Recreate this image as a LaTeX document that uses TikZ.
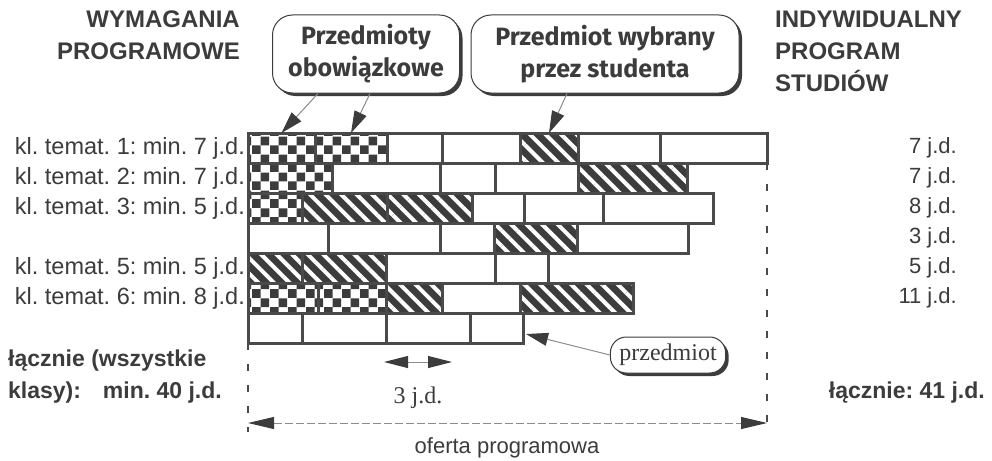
\documentclass[tikz,border=0pt]{standalone}
\usepackage{fontspec}
\setmainfont{Liberation Sans}
\newfontfamily\calloutfont{Fira Sans}
\newfontfamily\unitfont{Liberation Serif}
\usetikzlibrary{positioning, patterns.meta, arrows.meta, shadows}

\definecolor{ink}{HTML}{3C3C3C}
\definecolor{gridgray}{HTML}{4A4A4A}
\definecolor{shaftgray}{HTML}{8C8C8C}

\tikzdeclarepattern{
	name=checkcells,
	type=uncolored,
	bottom left={(0pt,0pt)},
	top right={(18pt,18pt)},
	tile size={(18pt,18pt)},
	code={
		\fill (0pt,0pt) rectangle (9pt,9pt);
		\fill (9pt,9pt) rectangle (18pt,18pt);
	}
}

\tikzset{
	cell/.style={draw=gridgray, line width=3pt, anchor=north west, minimum height=30pt, inner sep=0pt, outer sep=0pt},
	blankcell/.style={cell, fill=white},
	chkcell/.style={cell, preaction={fill=white}, pattern=checkcells, pattern color=ink},
	hatcell/.style={cell, preaction={fill=ink}, pattern={Lines[angle=-45, distance=11pt, line width=4pt]}, pattern color=white},
	lbl/.style={text=ink, inner sep=0pt, font=\fontsize{22}{26}\selectfont},
	reqlbl/.style={lbl, font=\fontsize{23.5}{27}\selectfont},
	boldlbl/.style={text=ink, inner sep=0pt, font=\bfseries\fontsize{23}{27}\selectfont},
	header/.style={text=ink, inner sep=0pt, font=\bfseries\fontsize{24}{32}\selectfont},
	callout/.style={draw=ink, line width=1pt, fill=white, rounded corners=20pt, align=center, text=ink,
		font=\calloutfont\bfseries\fontsize{25}{32}\selectfont,
		general shadow={fill=ink, shadow xshift=3pt, shadow yshift=-3pt}},
	pointer/.style={draw=shaftgray, line width=1pt, -{Triangle[length=22pt, width=13pt, color=ink]}},
	span/.style={draw=shaftgray, line width=1pt, {Triangle[length=24pt, width=12pt, color=ink]}-{Triangle[length=24pt, width=12pt, color=ink]}},
	guide/.style={draw=gridgray, line width=2.5pt, dash pattern=on 7pt off 14pt}
}

\begin{document}
\frenchspacing
\begin{tikzpicture}[x=1pt, y=-1pt]
	\useasboundingbox (0,0) rectangle (992,460);
	\fill[white] (0,0) rectangle (992,460);

	\node[header, anchor=north east, align=right] (reqhead) at (240,11) {WYMAGANIA\\PROGRAMOWE};
	\node[header, anchor=north west, align=left] (ownhead) at (775,11) {INDYWIDUALNY\\PROGRAM\\STUDIÓW};

	\node[callout, minimum width=187pt, minimum height=78pt] (oblig) at (366,54) {Przedmioty\\obowiązkowe};
	\node[callout, minimum width=268pt, minimum height=78pt] (chosen) at (605,54) {Przedmiot wybrany\\przez studenta};

	\foreach \r/\cells in {
		1/{248/315/chkcell,315/387/chkcell,387/442/blankcell,442/520/blankcell,520/578/hatcell,578/660/blankcell,660/767/blankcell},
		2/{248/332/chkcell,332/440/blankcell,440/495/blankcell,495/578/blankcell,578/687/hatcell},
		3/{248/302/chkcell,302/387/hatcell,387/472/hatcell,472/524/blankcell,524/603/blankcell,603/713/blankcell},
		4/{248/328/blankcell,328/440/blankcell,440/494/blankcell,494/577/hatcell,577/688/blankcell},
		5/{248/302/hatcell,302/386/hatcell,386/495/blankcell,495/548/blankcell},
		6/{248/318/chkcell,318/386/chkcell,386/442/hatcell,442/520/blankcell,520/633/hatcell},
		7/{248/302/blankcell,302/386/blankcell,386/470/blankcell,470/523/blankcell}}
		\foreach \a/\b/\kind [count=\n] in \cells
			\node[\kind, minimum width={(\b-\a)*1pt}] (c\r-\n) at (\a,{133+30*(\r-1)}) {};

	\foreach \r/\k/\m in {1/1/7,2/2/7,3/3/5,5/5/5,6/6/8}
		\node[reqlbl, left=3pt of c\r-1] (req\r) {kl. temat. \k: min. \m~j.d.};

	\foreach \r/\u in {1/7,2/7,3/8,4/3,5/5,6/11}
		\node[lbl, anchor=east] (sum\r) at (957,{148+30*(\r-1)}) {\u~j.d.};

	\draw[pointer] ([xshift=-48pt]oblig.south) -- (c1-1.north);
	\draw[pointer] ([xshift=4pt]oblig.south) -- (c1-2.north);
	\draw[pointer] ([xshift=-38pt]chosen.south) -- (c1-5.north);

	\node[callout, font=\unitfont\fontsize{24}{28}\selectfont, rounded corners=16pt, inner xsep=9pt, minimum height=36pt] (item) at (668,355) {przedmiot};
	\draw[pointer] (item.west) -- ([shift={(3,-9)}]c7-4.south east);

	\coordinate (unitL) at (384,362);
	\coordinate (unitR) at (452,362);
	\draw[span] (unitL) -- (unitR);
	\node[text=ink, inner sep=0pt, font=\unitfont\fontsize{24}{28}\selectfont, anchor=base] (unitlbl) at (418,403) {3 j.d.};

	\coordinate (guideL) at (248,432);
	\coordinate (guideR) at (767,432);
	\draw[guide] (c7-1.south west) -- (guideL);
	\draw[guide] (c1-7.south east) -- (guideR);

	\coordinate (offL) at (248,423);
	\coordinate (offR) at (767,423);
	\draw[span, dash pattern=on 8pt off 3pt, {Triangle[length=26pt, width=12pt, color=ink]}-{Triangle[length=26pt, width=12pt, color=ink]}] (offL) -- (offR);
	\node[lbl, anchor=base] (offer) at (507,453) {oferta programowa};

	\node[boldlbl, anchor=base west] (tot1) at (8,366) {łącznie (wszystkie};
	\node[boldlbl, anchor=base west] (tot2) at (8,398) {klasy):};
	\node[boldlbl, anchor=base east] (tot3) at (222,398) {min. 40 j.d.};
	\node[boldlbl, anchor=base east] (tot4) at (985,398) {łącznie: 41 j.d.};
\end{tikzpicture}
\end{document}
